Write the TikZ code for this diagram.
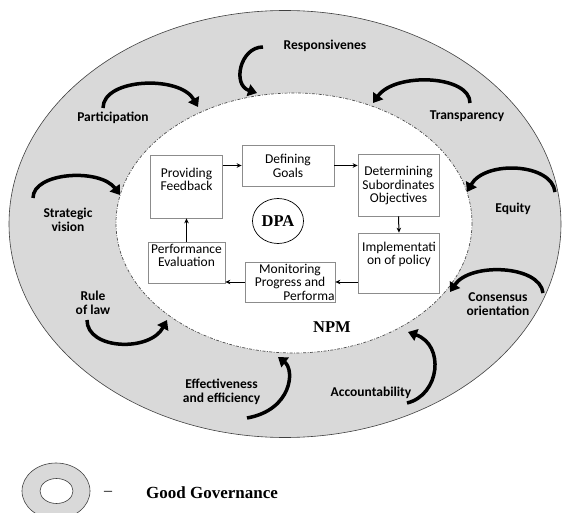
\documentclass[tikz,border=0pt]{standalone}
\usepackage{fontspec}
\usetikzlibrary{arrows.meta,shapes.geometric}
\newfontfamily\calfont{Carlito}
\newfontfamily\timesfont{Liberation Serif}
\definecolor{ringgray}{rgb}{0.85,0.85,0.85}
\definecolor{boxgray}{rgb}{0.55,0.55,0.55}
\tikzset{
  box/.style={draw=boxgray, fill=white, line width=0.7pt, inner sep=0pt},
  boxtxt/.style={font=\calfont\fontsize{13.5}{13.5}\selectfont, align=center, inner sep=0pt},
  lbl/.style={font=\calfont\bfseries\fontsize{13.5}{14}\selectfont, align=center, inner sep=0pt},
  tms/.style={font=\timesfont\bfseries\fontsize{16.5}{18}\selectfont, inner sep=0pt},
  flow/.style={line width=1pt, -{Stealth[length=5pt,width=4.5pt]}},
  swoosh/.style={line width=3.5pt, -{Triangle[length=9pt,width=12pt]}}
}

\begin{document}
\begin{tikzpicture}[x=1pt,y=-1pt]
  \useasboundingbox (0,0) rectangle (565,513);
  % good governance ring and NPM field
  \draw[fill=ringgray, draw=black!75, line width=0.6pt] (285,224) ellipse [x radius=276, y radius=213.5];
  \draw[fill=white, draw=black!70, line width=0.7pt, dash pattern=on 3pt off 1.5pt on 0.8pt off 1.5pt]
    (294,223) ellipse [x radius=178, y radius=130];
  % process boxes
  \foreach \n/\x/\y/\w/\h in {pf/186.5/186.5/72/63, dg/288/165.5/92/41, ds/398.5/185/81/62,
      im/399/263/81/60, mo/290/282/90/40, pe/186.5/262.5/77/41}
    { \node[box, minimum width=\w pt, minimum height=\h pt] (\n) at (\x,\y) {}; }
  \node[boxtxt] (pf-t) at (186.5,179.5) {Providing\\Feedback};
  \node[boxtxt] (dg-t) at (288,166) {Defining\\Goals};
  \node[boxtxt] (ds-t) at (398.5,186) {Determining\\Subordinates\\Objectives};
  \node[boxtxt] (im-t) at (399,254.5) {Implementati\\on of policy};
  \node[boxtxt] (mo-t) at (290,282) {Monitoring\\Progress and\\\hspace*{38pt}Performa};
  \node[boxtxt] (pe-t) at (186.5,255.5) {Performance\\Evaluation};
  \draw[flow] (pf.east |- dg.west) -- (dg.west);
  \draw[flow] (dg.east) -- (dg.east -| ds.west);
  \draw[flow] (ds.south) -- (im.north);
  \draw[flow] (im.west |- mo.east) -- (mo.east);
  \draw[flow] (mo.west) -- (mo.west -| pe.east);
  \draw[flow] (pe.north) -- (pf.south);
  \node[tms, draw, ellipse, minimum width=51pt, minimum height=45pt, line width=0.7pt] (dpa) at (278,221) {DPA};
  \node[tms] (npm) at (332,327) {NPM};
  % principles round the ring
  \foreach \n/\x/\y/\t in {resp/325/46/Responsivenes, part/113/118/Participation, transp/467/116/Transparency,
      strat/68/220/{Strategic\\vision}, equ/513/209/Equity, rule/93/303/{Rule\\of law},
      cons/498/304/{Consensus\\orientation}, eff/221.6/392/{Effectiveness\\and efficiency},
      acc/371/393/Accountability}
    { \node[lbl] (\n) at (\x,\y) {\t}; }
  \foreach \s/\p/\q/\e in {{263,47}/{240,47}/{232,85}/{257,93}, {103,108}/{103,78}/{180,75}/{198,107},
      {470,103}/{470,75}/{395,72}/{373,103}, {33,198}/{33,172}/{100,168}/{120,195},
      {555,192}/{552,163}/{485,160}/{467,192}, {87,320}/{87,350}/{150,352}/{167,320},
      {543,293}/{540,265}/{470,262}/{450,292}, {247,418}/{292,410}/{295,370}/{278,357},
      {407,403}/{440,395}/{445,345}/{408,332}}
    { \draw[swoosh] (\s) .. controls (\p) and (\q) .. (\e); }
  % legend
  \draw[fill=ringgray, draw=black!75, line width=0.6pt] (56,491) ellipse [x radius=34, y radius=28];
  \draw[fill=white, draw=black!75, line width=0.6pt] (56.5,491) ellipse [x radius=16.5, y radius=12.5];
  \node[font=\timesfont\fontsize{16}{18}\selectfont, inner sep=0pt] (dash) at (108,493) {\textendash};
  \node[tms, font=\timesfont\bfseries\fontsize{17}{18}\selectfont] (gg) at (212,493) {Good Governance};
\end{tikzpicture}
\end{document}
